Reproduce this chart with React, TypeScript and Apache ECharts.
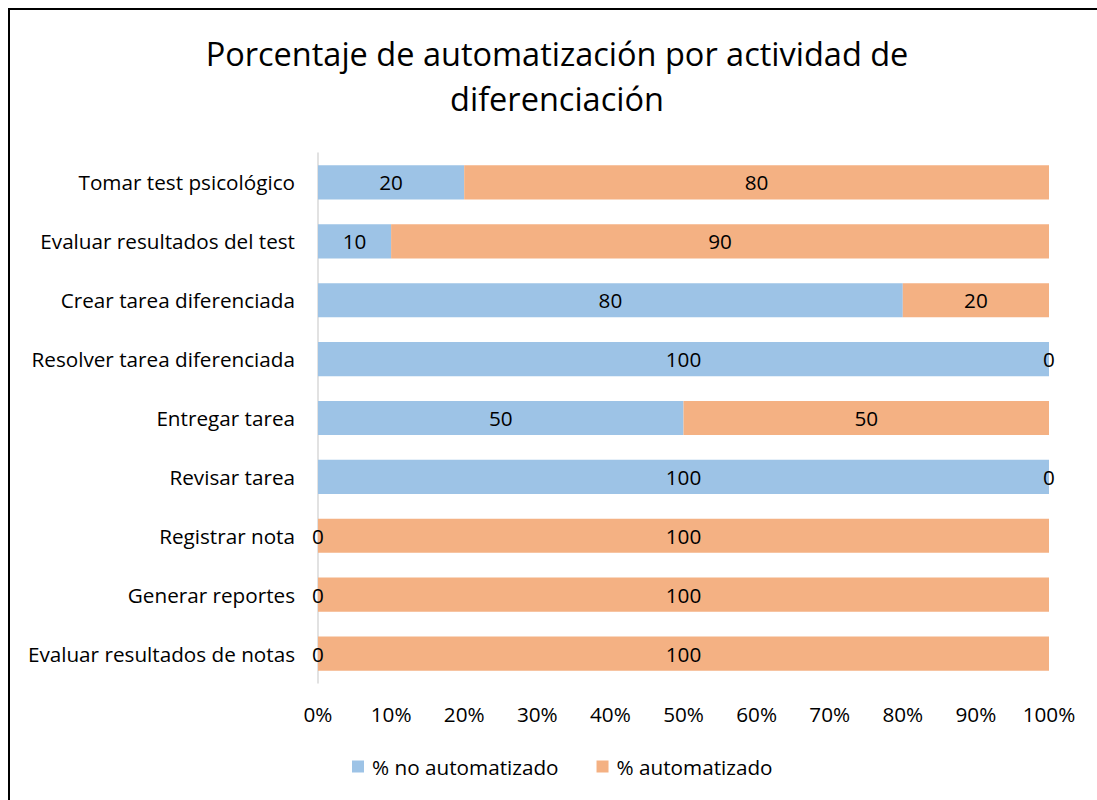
import React, { useEffect, useRef } from "react";
import * as echarts from "echarts";

const categories = [
  "Tomar test psicológico",
  "Evaluar resultados del test",
  "Crear tarea diferenciada",
  "Resolver tarea diferenciada",
  "Entregar tarea",
  "Revisar tarea",
  "Registrar nota",
  "Generar reportes",
  "Evaluar resultados de notas",
];
const noAutomatizado = [20, 10, 80, 100, 50, 100, 0, 0, 0];
const automatizado = [80, 90, 20, 0, 50, 0, 100, 100, 100];
const xTicks = [0, 10, 20, 30, 40, 50, 60, 70, 80, 90, 100];
const seriesNames = ["% no automatizado", "% automatizado"];
const titleText = "Porcentaje de automatización por actividad de\ndiferenciación";

const FONT = "Open Sans";
const FS = 20.7;

export default function App() {
  const ref = useRef<HTMLDivElement>(null);
  useEffect(() => {
    if (!ref.current) return;
    const chart = echarts.init(ref.current, null, { renderer: "svg" });
    const label = {
      show: true,
      position: "inside",
      color: "#000",
      fontFamily: FONT,
      fontSize: FS,
    };
    chart.setOption({
      animation: false,
      backgroundColor: "#fff",
      graphic: [
        {
          type: "text",
          x: 547,
          y: 21,
          style: {
            text: titleText,
            fontFamily: FONT,
            fontSize: 32.5,
            lineHeight: 45,
            fill: "#000",
            textAlign: "center",
          },
        },
      ],
      legend: {
        data: seriesNames,
        top: 746,
        left: 342,
        padding: 0,
        itemWidth: 12,
        itemHeight: 12,
        itemGap: 38,
        icon: "rect",
        textStyle: { fontFamily: FONT, fontSize: FS, color: "#000", padding: [0, 0, 0, 3] },
      },
      grid: { left: 308, top: 143, width: 731, height: 530, containLabel: false },
      xAxis: {
        type: "value",
        min: 0,
        max: 100,
        interval: 10,
        axisLine: { show: false },
        axisTick: { show: false },
        splitLine: { show: false },
        axisLabel: {
          margin: 20,
          color: "#000",
          fontFamily: FONT,
          fontSize: FS,
          formatter: (v: number) => (xTicks.includes(v) ? v + "%" : ""),
        },
      },
      yAxis: {
        type: "category",
        data: categories,
        inverse: true,
        axisLine: { show: true, lineStyle: { color: "#D9D9D9", width: 1.5 } },
        axisTick: { show: false },
        axisLabel: {
          margin: 23,
          color: "#000",
          fontFamily: FONT,
          fontSize: FS,
        },
      },
      series: [
        {
          name: seriesNames[0],
          type: "bar",
          stack: "total",
          data: noAutomatizado,
          barCategoryGap: "42%",
          itemStyle: { color: "#9DC3E6" },
          label,
        },
        {
          name: seriesNames[1],
          type: "bar",
          stack: "total",
          data: automatizado,
          barCategoryGap: "42%",
          itemStyle: { color: "#F4B183" },
          label,
        },
      ],
    });
    return () => chart.dispose();
  }, []);
  return (
    <div
      style={{
        position: "fixed",
        left: 8,
        top: 8,
        right: 0,
        bottom: 0,
        overflow: "hidden",
        background: "#fff",
      }}
    >
      <div style={{ border: "2px solid #000", width: 1100, height: 800 }}>
        <div ref={ref} style={{ width: 1100, height: 800 }} />
      </div>
    </div>
  );
}
